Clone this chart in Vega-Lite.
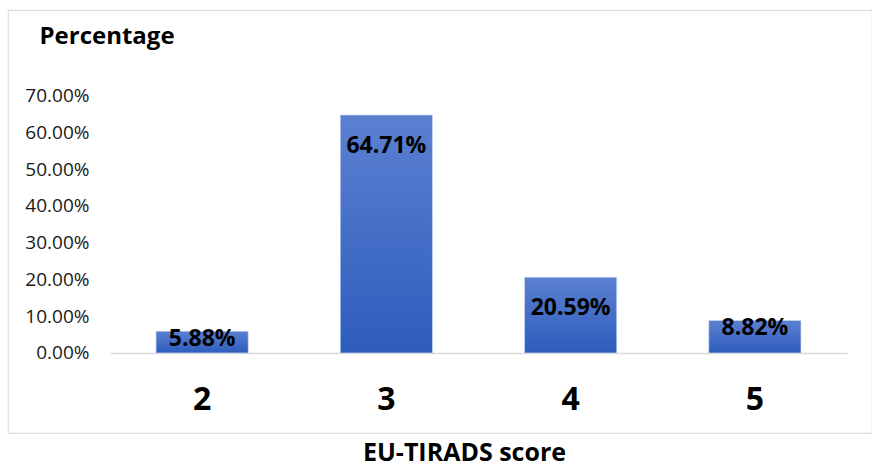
{
  "$schema": "https://vega.github.io/schema/vega-lite/v6.json",
  "autosize": "none",
  "width": 864,
  "height": 423,
  "padding": {"left": 8, "top": 10, "right": 0, "bottom": 33},
  "background": "white",
  "config": {"view": {"stroke": "#dcdfe3", "strokeWidth": 1.2}, "font": "Open Sans"},
  "data": {
    "values": [
      {"score": "2", "pct": 0.0588},
      {"score": "3", "pct": 0.6471},
      {"score": "4", "pct": 0.2059},
      {"score": "5", "pct": 0.0882}
    ]
  },
  "encoding": {
    "x": {
      "field": "score",
      "type": "nominal",
      "scale": {"range": [102, 839], "paddingInner": 0.5, "paddingOuter": 0.25},
      "axis": {
        "orient": "bottom",
        "offset": -80,
        "labelAngle": 0,
        "labelFont": "Open Sans",
        "labelFontSize": 32,
        "labelFontWeight": "bold",
        "labelColor": "#000000",
        "labelBaseline": "alphabetic",
        "labelPadding": 56,
        "ticks": false,
        "domain": true,
        "domainColor": "#d9d9d9",
        "domainWidth": 1.5,
        "title": "EU-TIRADS score",
        "titleFont": "Open Sans",
        "titleFontSize": 25,
        "titleFontWeight": "bold",
        "titleColor": "#000000",
        "titleBaseline": "alphabetic",
        "titleAlign": "center",
        "titleX": 456,
        "titleY": 107
      }
    },
    "y": {
      "field": "pct",
      "type": "quantitative",
      "scale": {"domain": [-0.2179, 0.9329], "nice": false, "zero": false},
      "axis": {
        "orient": "left",
        "offset": -102,
        "values": [0, 0.1, 0.2, 0.3, 0.4, 0.5, 0.6, 0.7],
        "format": ".2%",
        "grid": false,
        "domain": false,
        "ticks": false,
        "labelPadding": 21,
        "labelFont": "Open Sans",
        "labelFontSize": 19,
        "labelColor": "#1a1a1a",
        "title": "Percentage",
        "titleAngle": 0,
        "titleAlign": "left",
        "titleBaseline": "alphabetic",
        "titleX": -71,
        "titleY": 33,
        "titleFont": "Open Sans",
        "titleFontSize": 24,
        "titleFontWeight": "bold",
        "titleColor": "#000000"
      }
    }
  },
  "layer": [
    {
      "mark": {
        "type": "bar",
        "stroke": "#c9d6f0",
        "strokeWidth": 0.6,
        "color": {
          "gradient": "linear",
          "x1": 0, "y1": 0, "x2": 0, "y2": 1,
          "stops": [
            {"offset": 0, "color": "#5b80d0"},
            {"offset": 1, "color": "#2e5dbd"}
          ]
        }
      },
      "encoding": {"y2": {"datum": 0}}
    },
    {
      "transform": [{"filter": "datum.pct > 0.15"}],
      "mark": {"type": "text", "font": "Open Sans", "fontSize": 23, "fontWeight": "bold", "color": "#000000", "baseline": "alphabetic", "dy": 38},
      "encoding": {"text": {"field": "pct", "type": "quantitative", "format": ".2%"}}
    },
    {
      "transform": [{"filter": "datum.pct <= 0.15"}],
      "mark": {"type": "text", "font": "Open Sans", "fontSize": 23, "fontWeight": "bold", "color": "#000000", "baseline": "alphabetic", "dy": 14.5},
      "encoding": {"text": {"field": "pct", "type": "quantitative", "format": ".2%"}}
    }
  ]
}
